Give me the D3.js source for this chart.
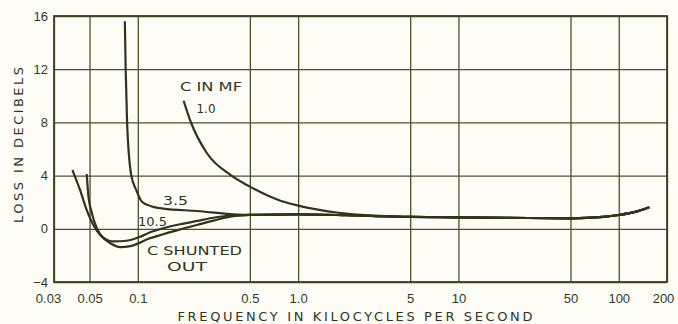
<!DOCTYPE html>
<html>
<head>
<meta charset="utf-8">
<script src="https://cdn.jsdelivr.net/npm/d3@7"></script>
<style>
  body { margin: 0; background: #fdfdf6; }
  svg { display: block; font-family: "DejaVu Sans", sans-serif; }
  .tick text { fill: #34381f; font-size: 13px; }
</style>
</head>
<body>
<script>
// tick values / labels
var xTicks = [0.03, 0.05, 0.1, 0.5, 1, 5, 10, 50, 100, 200];
var xTickLabels = ["0.03", "0.05", "0.1", "0.5", "1.0", "5", "10", "50", "100", "200"];
var yTicks = [-4, 0, 4, 8, 12, 16];

// common tail where all curves merge ([kc, dB])
var tail = [[0.5, 1.04], [1, 1.08], [2, 1.02], [5, 0.89], [10, 0.86], [20, 0.83], [50, 0.79], [80, 0.9], [100, 1.04], [125, 1.25], [155, 1.62]];

// each curve: [frequency kc, loss dB]
var shunted = [[0.0391, 4.42], [0.0436, 2.92], [0.048, 1.41], [0.0528, 0.29], [0.0581, -0.46], [0.0673, -1.09], [0.0777, -1.38], [0.09, -1.3], [0.119, -0.71], [0.144, -0.41], [0.184, -0.04], [0.234, 0.29], [0.296, 0.61], [0.378, 0.91], [0.438, 1.0]];
var c105 = [[0.048, 4.12], [0.049, 2.67], [0.0517, 1.17], [0.0555, 0.04], [0.0607, -0.64], [0.0705, -0.95], [0.0852, -0.9], [0.1036, -0.6], [0.1194, -0.26], [0.1437, 0.04], [0.1836, 0.34], [0.2343, 0.59], [0.2958, 0.83], [0.378, 1.0]];
var c35 = [[0.083, 15.6], [0.084, 12], [0.0857, 8], [0.0909, 4.05], [0.0977, 2.92], [0.106, 2.04], [0.12, 1.72], [0.144, 1.52], [0.235, 1.34], [0.378, 1.11]];
var c10 = [[0.193, 9.63], [0.214, 8.03], [0.27, 5.68], [0.378, 4.05], [0.5, 3.17], [0.775, 2.11], [1.03, 1.71], [1.84, 1.19], [3, 1.0]];
var curves = [shunted, c105, c35, c10];

var width = 678, height = 324;
var ink = "#30341d";

var svg = d3.select("body").append("svg")
    .attr("width", width)
    .attr("height", height);

svg.append("rect").attr("width", width).attr("height", height).attr("fill", "#fdfdf6");

var x = d3.scaleLog().domain([0.03, 200]).range([54, 667]);
var y = d3.scaleLinear().domain([-4, 16]).range([282, 16]);

/* grid + x tick labels */
var xAxis = d3.axisBottom(x)
    .tickValues(xTicks)
    .tickFormat(function(d, i) { return xTickLabels[i]; })
    .tickSize(-(y(-4) - y(16)))
    .tickPadding(12);

var gx = svg.append("g")
    .attr("transform", "translate(0," + y(-4) + ")")
    .call(xAxis);
gx.select(".domain").remove();
gx.selectAll(".tick line").attr("stroke", "#4b5030").attr("stroke-width", 1.3);
gx.selectAll(".tick text").attr("dx", function(d) { return d == 0.03 ? -6 : (d == 200 ? -4 : 0); });

var yAxis = d3.axisLeft(y)
    .tickValues(yTicks)
    .tickFormat(function(d) { return d < 0 ? "\u2212" + Math.abs(d) : d; })
    .tickSize(-(x(200) - x(0.03)))
    .tickPadding(6);

var gy = svg.append("g")
    .attr("transform", "translate(" + x(0.03) + ",0)")
    .call(yAxis);
gy.select(".domain").remove();
gy.selectAll(".tick line").attr("stroke", "#4b5030").attr("stroke-width", 1.3);

/* frame */
svg.append("rect")
    .attr("x", x(0.03)).attr("y", y(16))
    .attr("width", x(200) - x(0.03)).attr("height", y(-4) - y(16))
    .attr("fill", "none").attr("stroke", "#3d4125").attr("stroke-width", 1.8);

/* curves */
var line = d3.line()
    .x(function(d) { return x(d[0]); })
    .y(function(d) { return y(d[1]); })
    .curve(d3.curveMonotoneX);

curves.forEach(function(c) {
    svg.append("path")
        .datum(c.concat(tail.filter(function(t) { return t[0] > c[c.length - 1][0]; })))
        .attr("d", line)
        .attr("fill", "none")
        .attr("stroke", ink)
        .attr("stroke-width", 2.2);
});

/* curve labels */
var labels = [
    {t: "C IN MF", x: 211, y: 91, w: 62},
    {t: "1.0", x: 206, y: 113, w: 19},
    {t: "3.5", x: 175.5, y: 205, w: 25},
    {t: "10.5", x: 152.5, y: 226, w: 29},
    {t: "C SHUNTED", x: 194.5, y: 255, w: 95},
    {t: "OUT", x: 187, y: 271, w: 40}
];
svg.selectAll(".lbl").data(labels).enter().append("text")
    .attr("class", "lbl")
    .attr("x", function(d) { return d.x; })
    .attr("y", function(d) { return d.y; })
    .attr("text-anchor", "middle")
    .attr("font-size", 13)
    .attr("textLength", function(d) { return d.w; })
    .attr("lengthAdjust", "spacingAndGlyphs")
    .attr("fill", ink)
    .text(function(d) { return d.t; });

/* axis titles */
svg.append("text")
    .attr("x", 355).attr("y", 321)
    .attr("text-anchor", "middle")
    .attr("font-size", 13)
    .attr("textLength", 355)
    .attr("lengthAdjust", "spacing")
    .attr("fill", ink)
    .text("FREQUENCY IN KILOCYCLES PER SECOND");

svg.append("text")
    .attr("transform", "translate(23,145) rotate(-90)")
    .attr("text-anchor", "middle")
    .attr("font-size", 13)
    .attr("textLength", 156)
    .attr("lengthAdjust", "spacing")
    .attr("fill", ink)
    .text("LOSS IN DECIBELS");
</script>
</body>
</html>
